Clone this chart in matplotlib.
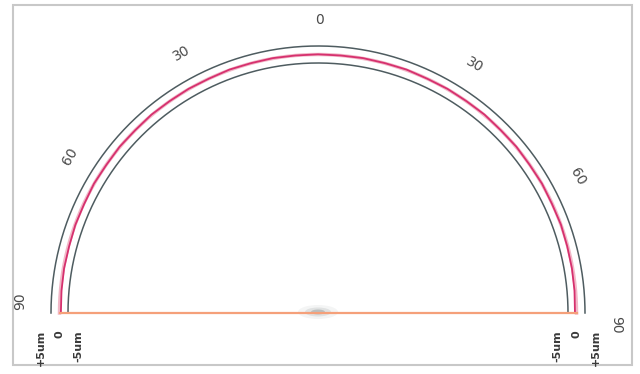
import numpy as np
import matplotlib.pyplot as plt
from matplotlib.patches import Ellipse, Rectangle

# measured profile: angle (deg, 0 = top, -90 = left) and deviation (um)
angles = list(range(-90, 91, 5))
deviation = [-0.8, -0.6, -0.4, -0.5, -0.2, -0.3, 0.1, -0.1, 0.2, 0.0,
             0.3, 0.1, 0.2, 0.0, 0.3, 0.1, 0.2, 0.0, 0.1,
             0.0, 0.2, 0.1, 0.3, 0.0, 0.2, 0.1, 0.3, 0.0, 0.2,
             -0.1, 0.1, -0.2, 0.0, -0.3, -0.4, -0.6, -0.9]

angle_ticks = [-90, -60, -30, 0, 30, 60, 90]
band_values = [5, 0, -5]
band_labels = ['+5um', '0', '-5um']

# layout: nominal radius and scale in axis units (pixels)
R0 = 258.5
PX_PER_UM = 1.7
LABEL_R = 293

def to_xy(theta_deg, r):
    t = np.radians(theta_deg)
    return r * np.sin(t), r * np.cos(t)

fig = plt.figure(figsize=(6.4, 3.74), dpi=100)
ax = fig.add_axes([0, 0, 1, 1])
ax.set_xlim(-318, 322)
ax.set_ylim(-61, 313)
ax.set_aspect('equal')
ax.axis('off')

# frame around the picture
ax.add_patch(Rectangle((-305, -52), 619, 360, fill=False,
                       edgecolor='#c8c8c8', linewidth=1.5))

# faint shadow at the centre
for w, h, a in [(40, 14, 0.06), (26, 9, 0.12), (14, 5, 0.25)]:
    ax.add_patch(Ellipse((0, 1), w, h, color='#505a5a', alpha=a, lw=0))

# +5 / -5 limit circles
th = np.linspace(-90, 90, 400)
for v in [5, -5]:
    x, y = to_xy(th, R0 + v * PX_PER_UM)
    ax.plot(x, y, color='#4e5c60', linewidth=1.1)

# zero circle (light) and profile
x, y = to_xy(th, R0)
ax.plot(x, y, color='#f2b8c8', linewidth=2.5)
x, y = to_xy(np.array(angles), R0 + np.array(deviation) * PX_PER_UM)
ax.plot(x, y, color='#d6306e', linewidth=1.3)

# baseline
ax.plot([-R0, R0], [0, 0], color='#f5a07a', linewidth=1.6)

# angle labels (text runs clockwise from its anchor)
for a in angle_ticks:
    lab = str(abs(a))
    r = LABEL_R + (5 if abs(a) == 90 else 0)
    x, y = to_xy(a + (len(lab) - 1) * 2 + 0.3, r)
    ax.text(x, y, lab, rotation=-a, ha='center', va='center',
            fontsize=10, color='#4a4a4a')

# band labels under the baseline
for side in [-1, 1]:
    for v, lab in zip(band_values, band_labels):
        xpos = side * (R0 + v * 3.8)
        ax.text(xpos, -17, lab, rotation=90, ha='center', va='top',
                fontsize=8, fontweight='bold', color='#3a3a3a')

fig.savefig('out.png', dpi=100)
